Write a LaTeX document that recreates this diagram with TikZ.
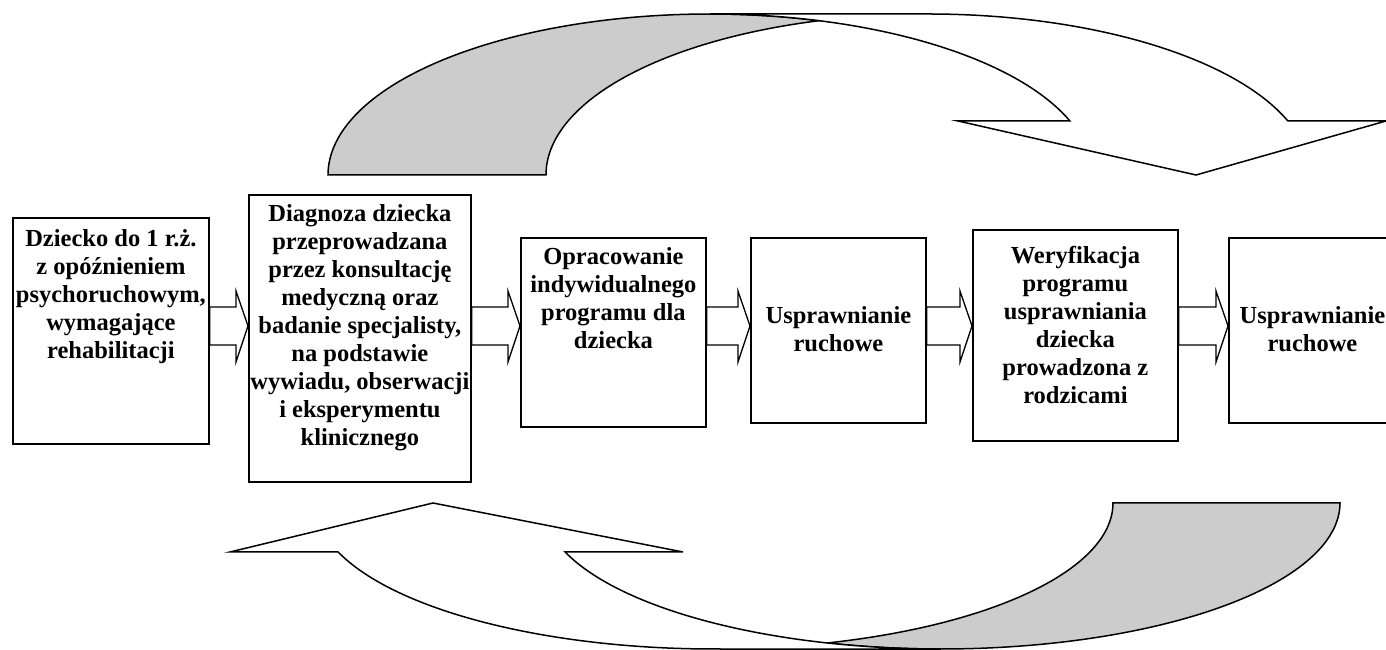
\documentclass[tikz,border=0pt]{standalone}
\usepackage{fontspec}
\setmainfont{Liberation Serif}
\usetikzlibrary{calc}

% block arrow joining the right side of one box to the left side of the next
\newcommand\flowarrow[2]{%
  \draw[blockarr] (#1.east |- 0,343)
    -- ($(#2.west |- 0,343)+(-12,0)$)
    -- ($(#2.west |- 0,359)+(-12,0)$)
    -- (#2.west |- 0,324)
    -- ($(#2.west |- 0,288)+(-12,0)$)
    -- ($(#2.west |- 0,305)+(-12,0)$)
    -- (#1.east |- 0,305) -- cycle;}

\begin{document}
\begin{tikzpicture}[x=1pt,y=1pt,
  box/.style={draw=black, line width=1.8pt, fill=white, inner sep=0pt, anchor=south west},
  txt/.style={inner sep=0pt, anchor=north, align=center,
              font=\fontsize{24.5}{28}\selectfont\bfseries},
  blockarr/.style={draw=black, line width=1.3pt, fill=white, line join=miter},
  bandfront/.style={draw=black, line width=1.5pt, fill=white, line join=miter},
  bandback/.style={draw=black, line width=1.5pt, fill=gray!40, line join=miter},
]
\useasboundingbox (0,0) rectangle (1386,650);
\clip (0,0) rectangle (1386,650);

% process boxes
\node[box, minimum width=196pt, minimum height=226pt] (b1) at (12,205) {};
\node[box, minimum width=222pt, minimum height=287pt] (b2) at (248,167) {};
\node[box, minimum width=185pt, minimum height=189pt] (b3) at (520,222) {};
\node[box, minimum width=175pt, minimum height=185pt] (b4) at (750,226) {};
\node[box, minimum width=205pt, minimum height=211pt] (b5) at (972,208) {};
\node[box, minimum width=175pt, minimum height=185pt] (b6) at (1228,226) {};

% box texts
\node[txt] (t1) at ($(b1.north)+(0,-9.4)$) {\strut Dziecko do 1 r.ż.\\z opóźnieniem\\psychoruchowym,\\wymagające\\rehabilitacji};
\node[txt] (t2) at ($(b2.north)+(0,-7.4)$) {\strut Diagnoza dziecka\\przeprowadzana\\przez konsultację\\medyczną oraz\\badanie specjalisty,\\na podstawie\\wywiadu, obserwacji\\i eksperymentu\\klinicznego};
\node[txt] (t3) at ($(b3.north)+(0,-7.4)$) {\strut Opracowanie\\indywidualnego\\programu dla\\dziecka};
\node[txt] (t4) at ($(b4.north)+(0,-66.4)$) {\strut Usprawnianie\\ruchowe};
\node[txt] (t5) at ($(b5.north)+(0,-14.4)$) {\strut Weryfikacja\\programu\\usprawniania\\dziecka\\prowadzona z\\rodzicami};
\node[txt] (t6) at ($(b6.north)+(-4,-66.4)$) {\strut Usprawnianie\\ruchowe};

% arrows between the boxes
\flowarrow{b1}{b2}
\flowarrow{b2}{b3}
\flowarrow{b3}{b4}
\flowarrow{b4}{b5}
\flowarrow{b5}{b6}

% upper curved arrow: shaded back part
\path[bandback] (328,475)
  arc[start angle=180, end angle=73.42, x radius=382pt, y radius=161pt]
  arc[start angle=106.58, end angle=180, x radius=382pt, y radius=161pt]
  -- cycle;
% upper curved arrow: front part with the head
\path[bandfront] (1196,475) -- (958,529) -- (1069.9,529)
  arc[start angle=19.6, end angle=90, x radius=382pt, y radius=161pt]
  -- (928,636)
  arc[start angle=90, end angle=19.6, x radius=382pt, y radius=161pt]
  -- (1386,529) -- cycle;

% lower curved arrow: shaded back part
\path[bandback] (1340,147)
  arc[start angle=0, end angle=-106.53, x radius=399pt, y radius=146pt]
  arc[start angle=-73.47, end angle=0, x radius=399pt, y radius=146pt]
  -- cycle;
% lower curved arrow: front part with the head
\path[bandfront] (433,147) -- (683,98) -- (565.1,98)
  arc[start angle=199.6, end angle=270, x radius=399pt, y radius=146pt]
  -- (714,1)
  arc[start angle=270, end angle=199.6, x radius=399pt, y radius=146pt]
  -- (230,98) -- cycle;
\end{tikzpicture}
\end{document}
